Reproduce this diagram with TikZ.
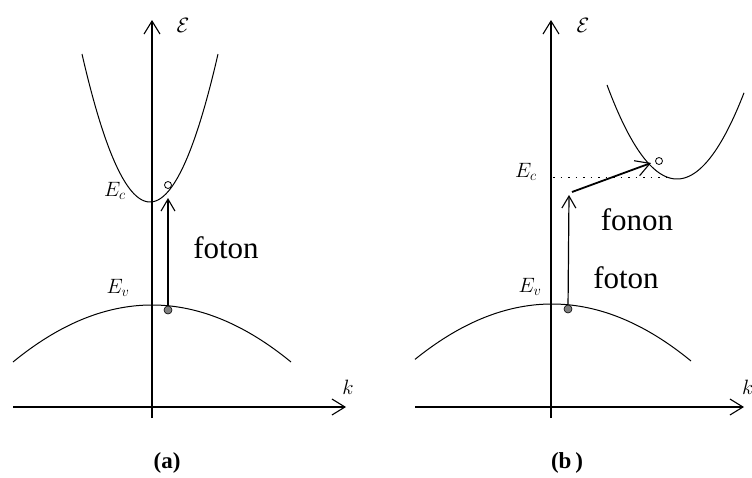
\documentclass[tikz,border=0pt]{standalone}
\usepackage{fontspec}
\setmainfont{Liberation Serif}
\usetikzlibrary{arrows.meta}
\begin{document}
\begin{tikzpicture}[x=1pt,y=-1pt,
  axis/.style={line width=1.3pt,-{Straight Barb[length=13pt,width=16pt,line width=1.1pt]}},
  band/.style={line width=1pt},
  transition/.style={line width=1.2pt,-{Straight Barb[length=12pt,width=14pt,line width=1.1pt]}},
  phonon/.style={line width=1.8pt,-{Straight Barb[length=14pt,width=16pt,line width=1.1pt]}},
  hole/.style={circle,draw,fill=white,line width=0.8pt,inner sep=0pt,minimum size=7pt},
  electron/.style={circle,draw,fill=gray,line width=0.6pt,inner sep=0pt,minimum size=8pt},
  elabel/.style={font=\fontsize{22}{22}\selectfont,inner sep=0pt},
  bigtext/.style={font=\fontsize{31}{31}\selectfont,inner sep=0pt},
  caption/.style={font=\fontsize{23}{23}\selectfont\bfseries,inner sep=0pt}]
\useasboundingbox (0,0) rectangle (752,477);
% ---------- panel (a)
\coordinate (ayb) at (152,418);
\coordinate (ayt) at (152,20);
\coordinate (axl) at (13,407);
\coordinate (axr) at (346,407);
\draw[axis] (ayb) -- (ayt);
\draw[axis] (axl) -- (axr);
\node[elabel] (aE) at (183,25) {$\mathcal{E}$};
\node[elabel] (ak) at (348,387) {$k$};
\draw[band] plot[domain=-68:68,samples=80,smooth] ({150+\x},{202-0.032*\x*\x});
\draw[band] plot[domain=-13.9:13.9,samples=80,smooth] ({152+10*\x},{305+0.295*\x*\x});
\node[elabel] (aEc) at (115,191) {$E_c$};
\node[elabel] (aEv) at (118,288) {$E_v$};
\node[hole] (ha) at (168,185) {};
\node[electron] (ea) at (168,310) {};
\coordinate (ta) at (168,198);
\draw[transition] (ea) -- (ta);
\node[bigtext] (afoton) at (226,248) {foton};
\node[caption] (capa) at (167,463) {(a)};
% ---------- panel (b)
\coordinate (byb) at (551,418);
\coordinate (byt) at (551,20);
\coordinate (bxl) at (415,407);
\coordinate (bxr) at (744,407);
\draw[axis] (byb) -- (byt);
\draw[axis] (bxl) -- (bxr);
\node[elabel] (bE) at (583,25) {$\mathcal{E}$};
\node[elabel,anchor=west] (bk) at (742,387) {$k$};
\draw[band] plot[domain=-70:67,samples=80,smooth] ({677+\x},{179-0.0192*\x*\x});
\draw[band] plot[domain=-13.7:13.9,samples=80,smooth] ({552+10*\x},{304+0.295*\x*\x});
\coordinate (dl) at (553,177);
\coordinate (dr) at (668,177);
\draw[line width=1pt,dash pattern=on 1.5pt off 6pt] (dl) -- (dr);
\node[elabel] (bEc) at (526,172) {$E_c$};
\node[elabel] (bEv) at (530,287) {$E_v$};
\node[hole] (hb) at (659,161) {};
\node[electron] (eb) at (568,309) {};
\coordinate (tb) at (569,195);
\coordinate (pb) at (572,192);
\coordinate (pe) at (651,163);
\draw[transition] (eb) -- (tb);
\draw[phonon] (pb) -- (pe);
\node[bigtext] (bfonon) at (637,220) {fonon};
\node[bigtext] (bfoton) at (626,278) {foton};
\node[caption] (capb) at (567,463) {(b\,)};
\end{tikzpicture}
\end{document}
